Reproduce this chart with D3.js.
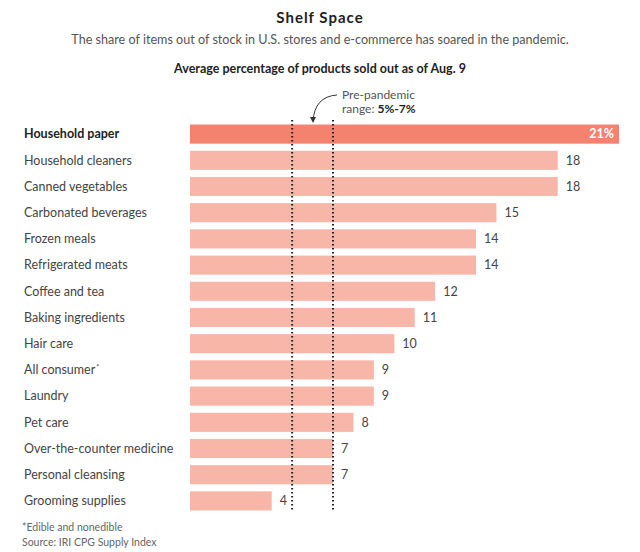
<!DOCTYPE html>
<html><head><meta charset="utf-8">
<script src="https://cdn.jsdelivr.net/npm/d3@7"></script>
<style>body{margin:0;background:#fff;} text{font-family:Lato, "Noto Sans", sans-serif;}</style>
</head><body><svg id="c" width="640" height="552"></svg>
<script>
const categories = ["Household paper","Household cleaners","Canned vegetables","Carbonated beverages","Frozen meals","Refrigerated meats","Coffee and tea","Baking ingredients","Hair care","All consumer","Laundry","Pet care","Over-the-counter medicine","Personal cleansing","Grooming supplies"];
const values = [21,18,18,15,14,14,12,11,10,9,9,8,7,7,4];
const valueLabels = ["21%","18","18","15","14","14","12","11","10","9","9","8","7","7","4"];
const preRange = [5,7];

const svg = d3.select("#c");
const x = d3.scaleLinear().domain([0,21]).range([190,619]);
const y = d3.scaleBand().domain(categories).range([121,514]).paddingInner(0.27).paddingOuter(0.135);

svg.append("text").attr("x",320).attr("y",23).attr("text-anchor","middle").attr("font-size",15).attr("font-weight","bold").attr("letter-spacing","1px").attr("fill","#222").text("Shelf Space");
svg.append("text").attr("x",320).attr("y",44).attr("text-anchor","middle").attr("font-size",12.6).attr("fill","#555").text("The share of items out of stock in U.S. stores and e-commerce has soared in the pandemic.");
svg.append("text").attr("x",320).attr("y",73).attr("text-anchor","middle").attr("font-size",12.5).attr("font-weight","bold").attr("fill","#222").text("Average percentage of products sold out as of Aug. 9");

const g = svg.append("g");
g.selectAll("rect.bar").data(categories).join("rect")
 .attr("x",x(0)).attr("y",d=>y(d)).attr("height",y.bandwidth())
 .attr("width",(d,i)=>x(values[i])-x(0))
 .attr("fill",(d,i)=>i===0?"#f3836f":"#f8b6a8");

g.selectAll("text.cat").data(categories).join("text")
 .attr("x",24).attr("y",d=>y(d)+y.bandwidth()/2).attr("dy","0.35em")
 .attr("font-size",12.5).attr("font-weight",(d,i)=>i===0?"bold":"normal")
 .attr("fill",(d,i)=>i===0?"#222":"#444")
 .each(function(d){
   const t=d3.select(this);
   t.append("tspan").text(d);
   if(d==="All consumer") t.append("tspan").attr("font-size",7).attr("dy","-0.6em").attr("dx","1").text("*");
 });

g.selectAll("text.val").data(categories).join("text")
 .attr("x",(d,i)=>i===0?x(values[i])-5:x(values[i])+8)
 .attr("y",d=>y(d)+y.bandwidth()/2).attr("dy","0.35em")
 .attr("text-anchor",(d,i)=>i===0?"end":"start")
 .attr("font-size",12.5).attr("font-weight",(d,i)=>i===0?"bold":"normal")
 .attr("fill",(d,i)=>i===0?"#fff":"#444")
 .text((d,i)=>valueLabels[i]);

preRange.forEach(v=>{
  svg.append("line").attr("x1",x(v)).attr("x2",x(v)).attr("y1",120).attr("y2",511)
   .attr("stroke","#222").attr("stroke-width",2).attr("stroke-dasharray","1.5,2.5");
});

svg.append("path").attr("d","M337,95 C322,96 314,105 313,121").attr("fill","none").attr("stroke","#333").attr("stroke-width",1);
svg.append("path").attr("d","M310,117 L313,123 L316,117 Z").attr("fill","#333");
const ann = svg.append("text").attr("font-size",12).attr("fill","#555");
ann.append("tspan").attr("x",342).attr("y",99).text("Pre-pandemic");
const l2 = ann.append("tspan").attr("x",342).attr("y",113);
l2.append("tspan").text("range: ");
l2.append("tspan").attr("font-weight","bold").attr("fill","#222").text("5%-7%");

svg.append("text").attr("x",22).attr("y",531).attr("font-size",10.5).attr("fill","#666").text("*Edible and nonedible");
svg.append("text").attr("x",22).attr("y",546).attr("font-size",10.5).attr("fill","#666").text("Source: IRI CPG Supply Index");
</script></body></html>
